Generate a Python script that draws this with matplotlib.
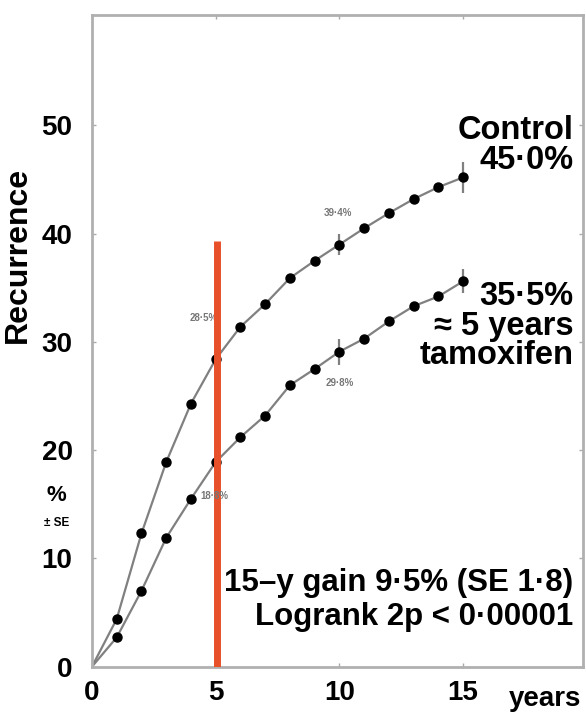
import numpy as np
import matplotlib
matplotlib.use("Agg")
import matplotlib.pyplot as plt

plt.rcParams['font.family'] = ['Liberation Sans', 'DejaVu Sans']
plt.rcParams['font.weight'] = 'bold'

# datos (años 0..15)
years = [0, 1, 2, 3, 4, 5, 6, 7, 8, 9, 10, 11, 12, 13, 14, 15]
control = [0, 4.4, 12.3, 18.9, 24.3, 28.4, 31.4, 33.5, 35.9, 37.5, 39.0, 40.5, 41.9, 43.2, 44.3, 45.2]
tamox = [0, 2.7, 7.0, 11.9, 15.5, 18.9, 21.2, 23.2, 26.0, 27.5, 29.1, 30.3, 31.9, 33.3, 34.2, 35.6]

# barras de error (± SE) en 5, 10 y 15 años
se_years = [5, 10, 15]
control_se = [0.7, 1.0, 1.4]
tamox_se = [0.6, 1.2, 1.1]

# etiquetas pequeñas junto a los puntos de 5 y 10 años
small_ctrl = ["28·5%", "39·4%"]
small_tam = ["18·8%", "29·8%"]

x_ticks = [0, 5, 10, 15]
y_ticks = [0, 10, 20, 30, 40, 50]

fig = plt.figure(figsize=(5.86, 7.18), dpi=100)
ax = fig.add_axes([0.157, 0.0716, 0.838, 0.9074])

gris = '#808080'
for serie, se in [(control, control_se), (tamox, tamox_se)]:
    ax.plot(years, serie, color=gris, lw=1.6, zorder=2)
    ax.plot(years[1:], serie[1:], 'o', color='black', ms=6.5, zorder=3)
    ax.errorbar(se_years, [serie[y] for y in se_years], yerr=se,
                fmt='none', ecolor=gris, elinewidth=1.6, capsize=0, zorder=2)

# línea roja en 5 años
ax.plot([5.05, 5.05], [0, 39.3], color='#E8502A', lw=5, solid_capstyle='butt', zorder=4)

# etiquetas diminutas
kw = dict(fontsize=7, color='#777777', ha='center', va='center')
ax.text(4.5, 32.2, small_ctrl[0], **kw)
ax.text(9.95, 41.9, small_ctrl[1], **kw)
ax.text(4.95, 15.8, small_tam[0], zorder=5, **kw)
ax.text(10.0, 26.2, small_tam[1], **kw)

fs = 20
fa = 23.5
xr = 19.45
ax.text(xr, 49.5, "Control", fontsize=fa, ha='right', va='center')
ax.text(xr, 46.8, "45·0%", fontsize=fa, ha='right', va='center')
ax.text(xr, 34.2, "35·5%", fontsize=fa, ha='right', va='center')
ax.text(xr, 31.4, "≈ 5 years", fontsize=fa, ha='right', va='center')
ax.text(xr, 28.7, "tamoxifen", fontsize=fa, ha='right', va='center')
ax.text(xr, 7.7, "15–y gain 9·5% (SE 1·8)", fontsize=22.5, ha='right', va='center')
ax.text(xr, 4.6, "Logrank 2p < 0·00001", fontsize=22.5, ha='right', va='center')

ax.set_xlim(0, 19.85)
ax.set_ylim(0, 60.2)
ax.set_xticks(x_ticks)
ax.set_yticks(y_ticks)
ax.tick_params(axis='both', direction='in', length=3, width=1, color='#aaaaaa',
               labelsize=fs, top=True, right=True)
ax.tick_params(axis='y', pad=14)
ax.tick_params(axis='x', pad=10)
for s in ax.spines.values():
    s.set_color('#b0b0b0')
    s.set_linewidth(2)

# "years" al lado de las marcas del eje x
ax.text(18.3, -1.75, "years", fontsize=fs, ha='center', va='top', clip_on=False)

# etiquetas del eje y
fig.text(0.031, 0.645, "Recurrence", rotation=90, fontsize=23, ha='center', va='center')
ax.text(-1.45, 15.8, "%", fontsize=16, ha='center', va='center', clip_on=False)
ax.text(-1.45, 13.3, "± SE", fontsize=8.5, ha='center', va='center', clip_on=False)

fig.savefig("out.png", dpi=100)
